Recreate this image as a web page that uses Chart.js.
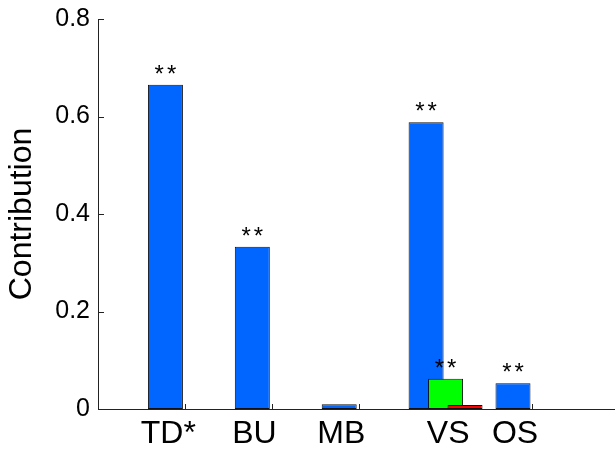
<!DOCTYPE html>
<html>
<head>
<meta charset="utf-8">
<script src="https://cdn.jsdelivr.net/npm/chart.js@4/dist/chart.umd.min.js"></script>
<style>
  html,body{margin:0;padding:0;background:#fff;}
  #chart{display:block;}
</style>
</head>
<body>
<canvas id="chart" width="615" height="453"></canvas>
<script>
// data
const categories = ['TD*', 'BU', 'MB', 'VS', 'OS'];
const groupPos = [1, 2, 3, 4, 5];
const labelPos = [0.81, 1.8, 2.8, 4.03, 4.8];
const blueVals = [0.665, 0.333, 0.01, 0.588, 0.053];
const greenVals = [0, 0, 0, 0.062, 0];
const redVals = [0, 0, 0, 0.008, 0];
const blueSig = [true, true, false, true, true];
const greenSig = [false, false, false, true, false];
const redSig = [false, false, false, false, false];
const yTicks = [0, 0.2, 0.4, 0.6, 0.8];

const FONT = '"Liberation Sans", Arial, Helvetica, sans-serif';
const shift = [-0.224, 0, 0.224]; // MATLAB-style grouped offsets
const sigs = [blueSig, greenSig, redSig];

function series(vals, k){
  return vals.map((v, i) => ({x: groupPos[i] + shift[k], y: v}));
}

// later series drawn on top, as in the figure
function barSet(label, vals, k, color){
  return {
    label, data: series(vals, k), order: 2 - k,
    backgroundColor: color, borderColor: '#111', borderWidth: 1,
    borderSkipped: false, grouped: false,
    barPercentage: 3, categoryPercentage: 1, maxBarThickness: 35
  };
}

// inward tick marks + significance stars
const marks = {
  id: 'marks',
  beforeDatasetsDraw(chart){
    const {ctx, chartArea: a, scales: {x, y}} = chart;
    ctx.save();
    ctx.strokeStyle = '#222'; ctx.lineWidth = 1;
    ctx.beginPath();
    yTicks.forEach(v => { const py = Math.round(y.getPixelForValue(v)) + 0.5; ctx.moveTo(a.left, py); ctx.lineTo(a.left + 6, py); });
    groupPos.forEach(v => { const px = Math.round(x.getPixelForValue(v)) + 0.5; ctx.moveTo(px, a.bottom); ctx.lineTo(px, a.bottom - 5); });
    ctx.stroke();
    ctx.restore();
  },
  afterDatasetsDraw(chart){
    const {ctx} = chart;
    ctx.save();
    ctx.fillStyle = '#000';
    ctx.font = '24px ' + FONT;
    ctx.textAlign = 'center';
    ctx.textBaseline = 'alphabetic';
    ctx.letterSpacing = '3px';
    sigs.forEach((sig, k) => {
      chart.getDatasetMeta(k).data.forEach((bar, i) => {
        if (sig[i]) ctx.fillText('**', bar.x + 1.5, bar.y - 3);
      });
    });
    ctx.restore();
  }
};

new Chart(document.getElementById('chart'), {
  type: 'bar',
  data: {
    datasets: [
      barSet('blue', blueVals, 0, '#0066ff'),
      barSet('green', greenVals, 1, '#00ff00'),
      barSet('red', redVals, 2, '#ff0000')
    ]
  },
  options: {
    responsive: false,
    animation: false,
    devicePixelRatio: 1,
    layout: {padding: {top: 19, right: 0, left: 0, bottom: 0}},
    plugins: {legend: {display: false}, tooltip: {enabled: false}},
    scales: {
      x: {
        type: 'linear', min: 0, max: 5.95, offset: false,
        grid: {display: false, drawTicks: false},
        border: {display: true, color: '#222', width: 1},
        afterBuildTicks: s => { s.ticks = labelPos.map(v => ({value: v})); },
        afterFit: s => { s.height = 44; s.paddingLeft = 0; s.paddingRight = 0; },
        ticks: {
          autoSkip: false, maxRotation: 0, minRotation: 0, padding: 6,
          color: '#000', font: {family: FONT, size: 32},
          callback: (v, i) => categories[i]
        }
      },
      y: {
        min: 0, max: 0.8,
        grid: {display: false, drawTicks: false},
        border: {display: true, color: '#222', width: 1},
        afterBuildTicks: s => { s.ticks = yTicks.map(v => ({value: v})); },
        afterFit: s => { s.width = 98; s.paddingTop = 0; s.paddingBottom = 0; },
        ticks: {
          padding: 8, color: '#000', font: {family: FONT, size: 25},
          callback: v => v === 0 ? '0' : v.toFixed(1)
        },
        title: {
          display: true, text: 'Contribution', color: '#000',
          font: {family: FONT, size: 32}, padding: {top: 3, bottom: 0}
        }
      }
    }
  },
  plugins: [marks]
});
</script>
</body>
</html>
